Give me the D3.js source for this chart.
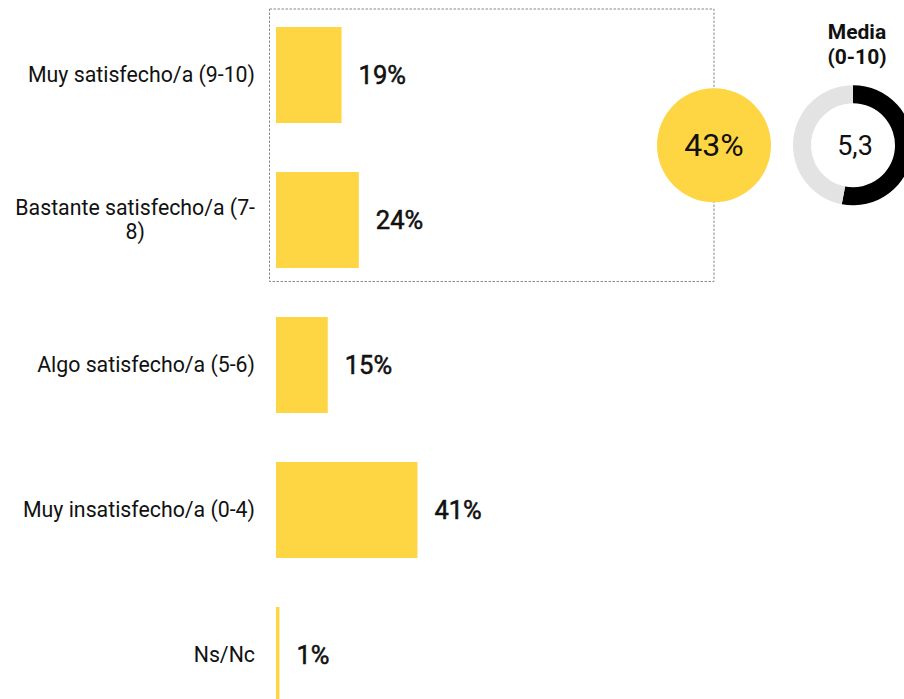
<!DOCTYPE html>
<html>
<head>
<meta charset="utf-8">
<script src="https://cdn.jsdelivr.net/npm/d3@7"></script>
<style>
  html, body { margin: 0; padding: 0; background: #fff; }
  svg { display: block; font-family: Roboto, "Noto Sans", sans-serif; }
</style>
</head>
<body>
<svg id="chart" width="904" height="699"></svg>
<script>
// Satisfaction levels and share of respondents (%)
const categories = [
  "Muy satisfecho/a (9-10)",
  "Bastante satisfecho/a (7-8)",
  "Algo satisfecho/a (5-6)",
  "Muy insatisfecho/a (0-4)",
  "Ns/Nc"
];
const shares = [19, 24, 15, 41, 1];
// Combined share of the two top levels, and mean score on a 0-10 scale
const satisfiedTotal = 43;
const meanScore = 5.3;
const meanMax = 10;

const svg = d3.select("#chart");
const yellow = "#fed543";
const ink = "#111";

const x = d3.scaleLinear().domain([0, 100]).range([276, 621]);
const y = d3.scaleBand().domain(categories).range([2.5, 727.5])
  .paddingInner(49 / 145).paddingOuter(49 / 290);

// Dotted frame around the two "satisfied" rows
const top2 = categories.slice(0, 2);
const frameTop = y(top2[0]) - 18, frameBottom = y(top2[1]) + y.bandwidth() + 13.5;
svg.append("rect")
  .attr("x", 269.5).attr("y", frameTop)
  .attr("width", 714 - 269.5).attr("height", frameBottom - frameTop)
  .attr("fill", "none").attr("stroke", "#8a8a8a").attr("stroke-width", 1)
  .attr("stroke-dasharray", "2.5,1.5");

// Bars
svg.append("g").selectAll("rect").data(categories).join("rect")
  .attr("x", x(0))
  .attr("y", d => y(d))
  .attr("width", (d, i) => x(shares[i]) - x(0))
  .attr("height", y.bandwidth())
  .attr("fill", yellow);

// Value labels (medium weight: regular face with a thin outline)
svg.append("g").selectAll("text").data(categories).join("text")
  .attr("x", (d, i) => x(shares[i]) + 17)
  .attr("y", d => y(d) + y.bandwidth() / 2)
  .attr("dy", "0.35em")
  .attr("font-size", 25.5).attr("font-weight", 400).attr("fill", ink)
  .attr("stroke", ink).attr("stroke-width", 0.55).attr("stroke-linejoin", "round")
  .text((d, i) => shares[i] + "%");

// Category labels, wrapped at hyphens/spaces; continuation lines centred under the first
const labelX = 255, maxW = 245, lineH = 24;
const labels = svg.append("g").attr("font-size", 21.3).attr("fill", ink);
categories.forEach(c => {
  const t = labels.append("text").attr("text-anchor", "end").attr("x", labelX);
  const tokens = c.split(/(?<=[\s-])/);
  const lines = [];
  let cur = "";
  tokens.forEach(tok => {
    t.text(cur + tok);
    if (cur && t.node().getComputedTextLength() > maxW) { lines.push(cur); cur = tok; }
    else cur += tok;
  });
  lines.push(cur);
  t.text(null);
  const cy = y(c) + y.bandwidth() / 2;
  const y0 = cy - (lines.length - 1) * lineH / 2;
  let firstW = 0;
  lines.forEach((ln, i) => {
    const ts = t.append("tspan").attr("y", y0 + i * lineH).attr("dy", "0.35em").text(ln.trim());
    if (i === 0) { ts.attr("x", labelX); firstW = ts.node().getComputedTextLength(); }
    else ts.attr("x", labelX - firstW / 2).attr("text-anchor", "middle");
  });
});

// Total of satisfied
const cMid = (frameTop + frameBottom) / 2;
svg.append("circle").attr("cx", 714).attr("cy", cMid).attr("r", 57).attr("fill", yellow);
svg.append("text").attr("x", 714).attr("y", cMid).attr("dy", "0.35em")
  .attr("text-anchor", "middle").attr("font-size", 32).attr("font-weight", 400).attr("fill", ink)
  .text(satisfiedTotal + "%");

// Mean score donut
const dc = { x: 853, y: cMid };
const arc = d3.arc().innerRadius(42).outerRadius(60);
const pie = d3.pie().sort(null)([meanScore, meanMax - meanScore]);
const dg = svg.append("g").attr("transform", `translate(${dc.x},${dc.y})`);
dg.selectAll("path").data(pie).join("path")
  .attr("d", arc).attr("fill", (d, i) => i === 0 ? "#000" : "#e3e3e3");
dg.append("text").attr("text-anchor", "middle").attr("dy", "0.35em")
  .attr("x", 2).attr("font-size", 27).attr("fill", ink)
  .text(d3.format(".1f")(meanScore).replace(".", ","));

const head = svg.append("text").attr("text-anchor", "middle")
  .attr("font-size", 21).attr("font-weight", 700).attr("fill", ink);
head.append("tspan").attr("x", 857).attr("y", 39).text("Media");
head.append("tspan").attr("x", 857).attr("y", 64).text("(0-10)");
</script>
</body>
</html>
